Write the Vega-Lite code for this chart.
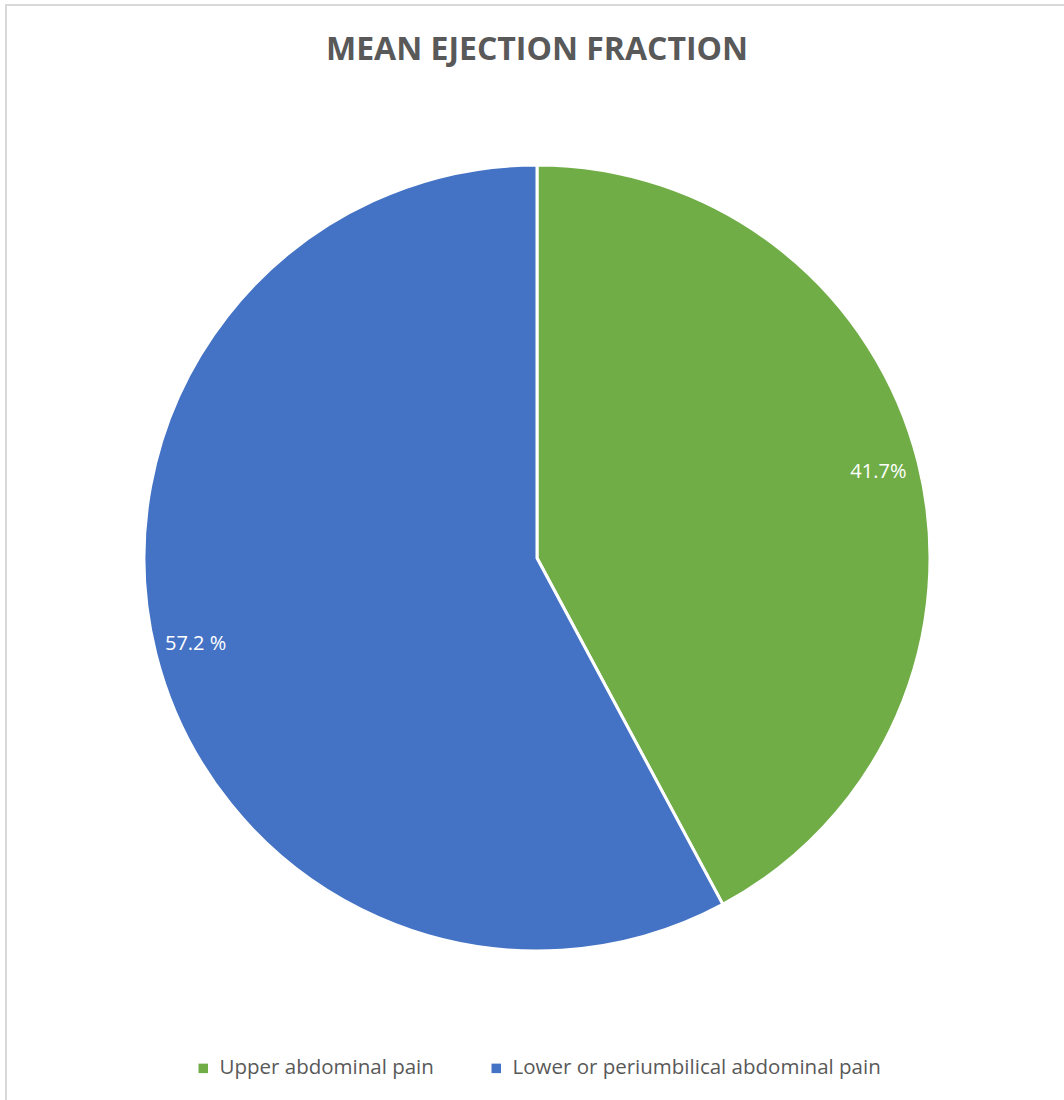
{
  "$schema": "https://vega.github.io/schema/vega-lite/v6.json",
  "autosize": "none",
  "width": 1062,
  "height": 1106,
  "padding": {"left": 6, "top": 5, "right": 0, "bottom": 0},
  "background": "white",
  "view": {"stroke": "#d9d9d9", "strokeWidth": 2, "fill": "white"},
  "config": {
    "font": "Open Sans",
    "legend": {"layout": {"bottom": {"anchor": "middle"}}}
  },
  "title": {
    "text": "MEAN EJECTION FRACTION",
    "font": "Open Sans",
    "fontSize": 32,
    "fontWeight": "bold",
    "color": "#595959",
    "anchor": "middle",
    "offset": -62
  },
  "data": {
    "values": [
      {"category": "Upper abdominal pain", "value": 41.7, "label": "41.7%", "ord": 1},
      {"category": "Lower or periumbilical abdominal pain", "value": 57.2, "label": "57.2 %", "ord": 2}
    ]
  },
  "encoding": {
    "theta": {"field": "value", "type": "quantitative", "stack": true},
    "order": {"field": "ord", "type": "quantitative"}
  },
  "layer": [
    {
      "mark": {"type": "arc", "outerRadius": 393, "stroke": "white", "strokeWidth": 3},
      "encoding": {
        "color": {
          "field": "category",
          "type": "nominal",
          "scale": {"domain": ["Upper abdominal pain", "Lower or periumbilical abdominal pain"], "range": ["#70ad47", "#4472c4"]},
          "legend": {
            "title": null,
            "orient": "bottom",
            "direction": "horizontal",
            "offset": -53,
            "symbolType": "square",
            "symbolSize": 90,
            "symbolStrokeWidth": 0,
            "labelFont": "Open Sans",
            "labelFontSize": 20.5,
            "labelColor": "#595959",
            "labelLimit": 500,
            "columnPadding": 52,
            "labelOffset": 6
          }
        }
      }
    },
    {
      "mark": {"type": "text", "radius": 352, "fontSize": 20, "font": "Open Sans", "color": "white"},
      "encoding": {
        "text": {"field": "label", "type": "nominal"}
      }
    }
  ]
}
